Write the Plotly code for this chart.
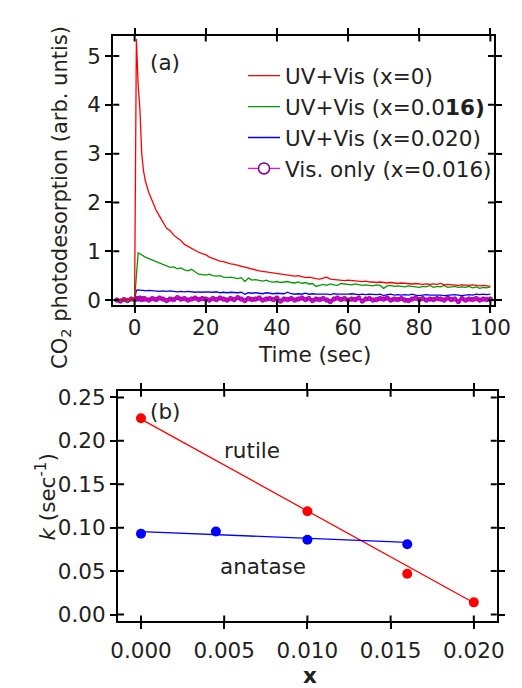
import plotly.graph_objects as go

# ---------------- Panel (a) data ----------------
time_s = [-5, -4, -3, -2, -1, 0, 0.5, 1, 1.5, 2, 2.5] + list(range(3, 101))

uv_x0 = [0.0, 0.01, 0.0, 0.02, 0.01, 0.03, 5.35, 4.4, 3.9, 3.0, 2.65,
         2.45, 2.2, 2.03, 1.85, 1.72, 1.58, 1.47, 1.42, 1.33, 1.27,
         1.22, 1.14, 1.1, 1.05, 1.02, 0.98, 0.95, 0.93, 0.88, 0.85,
         0.82, 0.8, 0.79, 0.76, 0.74, 0.73, 0.71, 0.69, 0.68, 0.66,
         0.63, 0.62, 0.6, 0.59, 0.58, 0.57, 0.56, 0.55, 0.54, 0.52,
         0.52, 0.5, 0.49, 0.5, 0.48, 0.46, 0.47, 0.45, 0.44, 0.43,
         0.45, 0.47, 0.43, 0.42, 0.41, 0.41, 0.4, 0.41, 0.4, 0.39,
         0.38, 0.38, 0.39, 0.37, 0.37, 0.36, 0.37, 0.36, 0.35, 0.36,
         0.35, 0.34, 0.35, 0.34, 0.34, 0.33, 0.34, 0.33, 0.32, 0.33,
         0.32, 0.33, 0.32, 0.34, 0.31, 0.32, 0.31, 0.31, 0.3, 0.31,
         0.3, 0.3, 0.31, 0.3, 0.29, 0.3, 0.29, 0.28]

uv_x016 = [0.0, 0.0, 0.01, 0.0, 0.0, 0.02, 0.55, 0.97, 0.95, 0.92, 0.9,
           0.88, 0.85, 0.82, 0.79, 0.77, 0.73, 0.7, 0.67, 0.68, 0.64,
           0.66, 0.62, 0.6, 0.63, 0.58, 0.53, 0.52, 0.51, 0.53, 0.5,
           0.49, 0.5, 0.47, 0.46, 0.47, 0.45, 0.44, 0.46, 0.38, 0.45,
           0.41, 0.42, 0.4, 0.39, 0.41, 0.38, 0.37, 0.38, 0.36, 0.37,
           0.38, 0.36, 0.35, 0.37, 0.34, 0.36, 0.33, 0.34, 0.28, 0.3,
           0.32, 0.3, 0.33, 0.31, 0.3, 0.34, 0.33, 0.32, 0.31, 0.33,
           0.32, 0.3, 0.31, 0.3, 0.29, 0.31, 0.3, 0.24, 0.29, 0.3,
           0.28, 0.29, 0.28, 0.27, 0.29, 0.28, 0.27, 0.26, 0.28, 0.27,
           0.3, 0.26, 0.28, 0.27, 0.3, 0.26, 0.27, 0.28, 0.26, 0.27,
           0.26, 0.28, 0.25, 0.27, 0.24, 0.26, 0.25, 0.27]

uv_x020 = [0.0, 0.01, 0.0, 0.0, 0.01, 0.02, 0.2, 0.21, 0.2, 0.2, 0.2,
           0.19, 0.2, 0.19, 0.19, 0.18, 0.19, 0.18, 0.19, 0.18, 0.17,
           0.18, 0.17, 0.18, 0.17, 0.16, 0.17, 0.16, 0.17, 0.16, 0.16,
           0.17, 0.15, 0.16, 0.15, 0.16, 0.15, 0.15, 0.16, 0.12, 0.15,
           0.14, 0.15, 0.14, 0.13, 0.15, 0.14, 0.13, 0.14, 0.13, 0.13,
           0.16, 0.13, 0.12, 0.13, 0.12, 0.14, 0.12, 0.13, 0.12, 0.12,
           0.13, 0.12, 0.11, 0.13, 0.12, 0.12, 0.11, 0.12, 0.13, 0.12,
           0.11, 0.12, 0.11, 0.12, 0.11, 0.11, 0.12, 0.09, 0.11, 0.12,
           0.1, 0.11, 0.1, 0.11, 0.1, 0.12, 0.1, 0.09, 0.1, 0.11,
           0.1, 0.1, 0.11, 0.1, 0.09, 0.1, 0.1, 0.11, 0.1, 0.09,
           0.1, 0.11, 0.1, 0.12, 0.11, 0.12, 0.11, 0.12]

vis_x016 = [0.0, -0.02, 0.01, -0.01, 0.02, 0.01, 0.03, 0.02, 0.04, 0.01, 0.03,
            0.02, 0.0, 0.03, 0.01, 0.04, 0.02, -0.01, 0.02, 0.01, 0.05,
            0.02, 0.03, 0.0, 0.02, 0.04, 0.01, 0.03, 0.02, 0.0, 0.03,
            0.01, 0.04, 0.02, 0.0, 0.03, 0.01, 0.05, 0.02, -0.01, 0.03,
            0.01, 0.02, 0.04, 0.0, 0.02, 0.03, 0.01, 0.04, -0.02, 0.02,
            0.01, 0.03, 0.0, 0.02, 0.04, 0.01, 0.03, -0.01, 0.02, 0.01,
            0.03, 0.0, -0.03, 0.02, 0.04, 0.01, 0.03, 0.0, 0.02, 0.01,
            0.04, -0.02, 0.02, 0.03, 0.0, 0.01, 0.03, 0.02, 0.04, 0.0,
            0.02, 0.01, 0.03, 0.0, -0.01, 0.02, 0.04, 0.01, 0.03, 0.0,
            0.02, 0.01, 0.03, 0.02, 0.0, 0.04, 0.01, 0.02, -0.03, 0.03,
            0.0, 0.02, 0.01, 0.03, 0.0, 0.02, 0.01, 0.02]

legend_names = ["UV+Vis (x=0)", "UV+Vis (x=0.0<b>16)</b>", "UV+Vis (x=0.020)", "Vis. only (x=0.016)"]

ticks_a_x = [0, 20, 40, 60, 80, 100]
ticks_a_y = [0, 1, 2, 3, 4, 5]

# ---------------- Panel (b) data ----------------
x_rutile = [0.0, 0.010, 0.016, 0.020]
k_rutile = [0.226, 0.119, 0.047, 0.014]
x_rutile_fit = [0.0, 0.020]
k_rutile_fit = [0.225, 0.0135]

x_anatase = [0.0, 0.0045, 0.010, 0.016]
k_anatase = [0.093, 0.0955, 0.086, 0.081]
x_anatase_fit = [0.0, 0.016]
k_anatase_fit = [0.0955, 0.083]

ticks_b_x = [0, 0.005, 0.01, 0.015, 0.02]
ticks_b_x_text = ["0.000", "0.005", "0.010", "0.015", "0.020"]
ticks_b_y = [0, 0.05, 0.1, 0.15, 0.2, 0.25]
ticks_b_y_text = ["0.00", "0.05", "0.10", "0.15", "0.20", "0.25"]

W, H = 522, 688
FONT = "DejaVu Sans, Liberation Sans, Arial, sans-serif"
TXT = "#231F20"
LW = 1.3
FS = 21.5

fig = go.Figure()

# panel a traces
fig.add_trace(go.Scatter(x=time_s, y=vis_x016, mode="lines+markers", xaxis="x", yaxis="y",
                         line=dict(color="#FF00FF", width=1),
                         marker=dict(size=4.5, color="#DD00DD", line=dict(color="#800080", width=0.8)),
                         showlegend=False, hoverinfo="skip"))
fig.add_trace(go.Scatter(x=time_s, y=uv_x020, mode="lines", name=legend_names[2], xaxis="x", yaxis="y",
                         line=dict(color="#0000FF", width=LW), legendrank=3))
fig.add_trace(go.Scatter(x=time_s, y=uv_x016, mode="lines", name=legend_names[1], xaxis="x", yaxis="y",
                         line=dict(color="#009900", width=LW), legendrank=2))
fig.add_trace(go.Scatter(x=time_s, y=uv_x0, mode="lines", name=legend_names[0], xaxis="x", yaxis="y",
                         line=dict(color="#FF0000", width=LW), legendrank=1))
fig.add_trace(go.Scatter(x=[None], y=[None], mode="lines+markers", name=legend_names[3], xaxis="x", yaxis="y",
                         line=dict(color="#FF00FF", width=1.3),
                         marker=dict(size=11, color="white", line=dict(color="#800080", width=1.5)),
                         legendrank=4))

# panel b traces
fig.add_trace(go.Scatter(x=x_rutile_fit, y=k_rutile_fit, mode="lines", xaxis="x2", yaxis="y2",
                         line=dict(color="#FF0000", width=1.3), showlegend=False))
fig.add_trace(go.Scatter(x=x_anatase_fit, y=k_anatase_fit, mode="lines", xaxis="x2", yaxis="y2",
                         line=dict(color="#0000FF", width=1.3), showlegend=False))
fig.add_trace(go.Scatter(x=x_rutile, y=k_rutile, mode="markers", xaxis="x2", yaxis="y2",
                         marker=dict(size=10, color="#FF0000"), showlegend=False))
fig.add_trace(go.Scatter(x=x_anatase, y=k_anatase, mode="markers", xaxis="x2", yaxis="y2",
                         marker=dict(size=10, color="#0000FF"), showlegend=False))

dom_a_x = [103 / W, 502 / W]
dom_a_y = [1 - 297 / H, 1 - 22 / H]
dom_b_x = [108 / W, 505 / W]
dom_b_y = [1 - 620 / H, 1 - 384.7 / H]

rng_a_x = [-6.0, 101.0]
rng_a_y = [-0.1, 5.42]
rng_b_x = [-0.00138, 0.02138]
rng_b_y = [-0.0079, 0.2575]

tickfont = dict(family=FONT, size=FS, color=TXT)
common = dict(showline=True, linecolor="black", linewidth=2, mirror="ticks",
              ticks="outside", ticklen=6, tickwidth=2, tickcolor="black",
              showgrid=False, zeroline=False, tickfont=tickfont)

fig.update_layout(
    width=W, height=H,
    margin=dict(l=0, r=0, t=0, b=0),
    paper_bgcolor="white", plot_bgcolor="white",
    font=dict(family=FONT, size=FS, color=TXT),
    xaxis=dict(domain=dom_a_x, range=rng_a_x, anchor="y", tickvals=ticks_a_x,
               ticklabelstandoff=-4, **common),
    yaxis=dict(domain=dom_a_y, range=rng_a_y, anchor="x", tickvals=ticks_a_y, **common),
    xaxis2=dict(domain=dom_b_x, range=rng_b_x, anchor="y2",
                tickvals=ticks_b_x, ticktext=ticks_b_x_text,
                ticklabelstandoff=3, **common),
    yaxis2=dict(domain=dom_b_y, range=rng_b_y, anchor="x2",
                tickvals=ticks_b_y, ticktext=ticks_b_y_text, **common),
    legend=dict(x=239 / W, y=1 - 42 / H, xanchor="left", yanchor="top",
                bgcolor="rgba(0,0,0,0)", borderwidth=0,
                font=dict(family=FONT, size=FS, color=TXT),
                itemwidth=32, tracegroupgap=0, traceorder="normal"),
    showlegend=True,
)

# inward halves of the crossing tick marks (the outward halves are the axis ticks)
shapes = []
def inner_ticks(xname, yname, xt, yt):
    for v in xt:
        for anc, d in ((0, 6), (1, -6)):
            shapes.append(dict(type="line", xref=xname, yref=yname + " domain", ysizemode="pixel",
                               yanchor=anc, x0=v, x1=v, y0=0, y1=d,
                               line=dict(color="black", width=2), layer="above"))
    for v in yt:
        for anc, d in ((0, 6), (1, -6)):
            shapes.append(dict(type="line", xref=xname + " domain", yref=yname, xsizemode="pixel",
                               xanchor=anc, x0=0, x1=d, y0=v, y1=v,
                               line=dict(color="black", width=2), layer="above"))

inner_ticks("x", "y", ticks_a_x, ticks_a_y)
inner_ticks("x2", "y2", ticks_b_x, ticks_b_y)
fig.update_layout(shapes=shapes)

ann = [
    dict(text="CO<sub>2</sub> photodesorption (arb. untis)", x=48 / W, y=1 - 187 / H, textangle=-90,
         font=dict(size=21)),
    dict(text="Time (sec)", x=314 / W, y=1 - 348 / H, font=dict(size=FS)),
    dict(text="(a)", x=157 / W, y=1 - 50 / H, font=dict(size=FS)),
    dict(text="<i>k</i> (sec<sup>-1</sup>)", x=32 / W, y=1 - 493 / H, textangle=-90, font=dict(size=FS)),
    dict(text="<b>x</b>", x=309 / W, y=1 - 675 / H, font=dict(size=FS)),
    dict(text="(b)", x=157 / W, y=1 - 406 / H, font=dict(size=FS)),
    dict(text="rutile", x=248 / W, y=1 - 446 / H, font=dict(size=FS)),
    dict(text="anatase", x=260 / W, y=1 - 564 / H, font=dict(size=FS)),
]
for a in ann:
    a.update(xref="paper", yref="paper", showarrow=False, xanchor="center", yanchor="middle")
    a["font"] = dict(family=FONT, color=TXT, **a["font"])
fig.update_layout(annotations=ann)

fig.write_html("out.html")
